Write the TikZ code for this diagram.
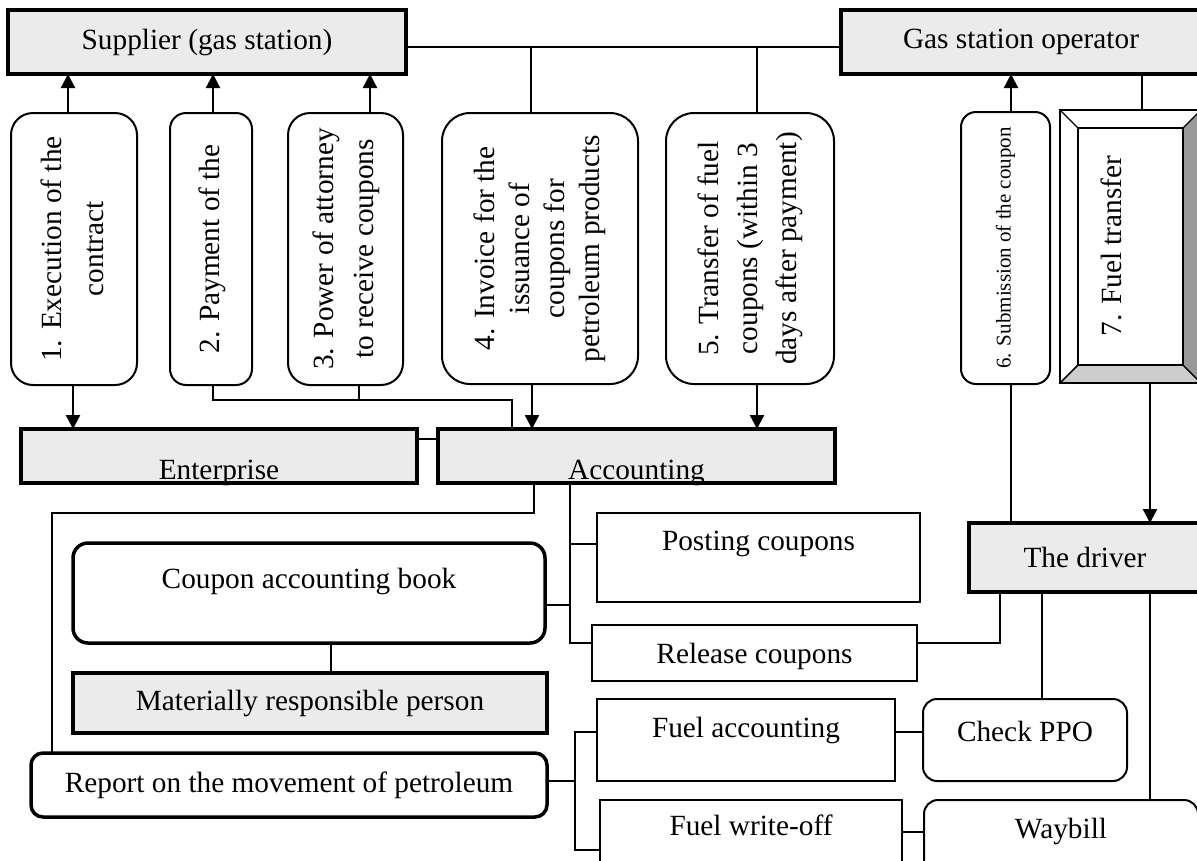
\documentclass[tikz,border=0pt]{standalone}
\usepackage{fontspec}
\setmainfont{Liberation Serif}
\usepackage{graphicx}
\usetikzlibrary{arrows.meta,calc}
\definecolor{boxgray}{HTML}{EBEBEB}
\definecolor{bevlight}{HTML}{CCCCCC}
\definecolor{bevdark}{HTML}{999999}
\newcommand{\bl}[2]{\raisebox{#1pt}[0pt][0pt]{#2}}
\newcommand{\vt}[2]{\rotatebox{90}{\fontsize{29.3}{#1}\selectfont\begin{tabular}{@{}c@{}}#2\end{tabular}}}
\begin{document}
\begin{tikzpicture}[x=1pt,y=-1pt,
 every node/.style={inner sep=0pt, outer sep=0pt, font=\fontsize{29.3}{34}\selectfont},
 thickbox/.style={draw, line width=4pt, fill=boxgray, rectangle},
 rbox/.style={draw, line width=2pt, rounded corners=22pt, fill=white},
 tbox/.style={draw, line width=1.6pt, fill=white},
 ln/.style={line width=1.9pt},
 arr/.style={line width=2.3pt, -{Triangle[length=14pt,width=14pt]}},
]
\clip (0,0) rectangle (1197,860);
\fill[white] (0,0) rectangle (1197,860);

% top boxes
\node[thickbox, minimum width=398, minimum height=64] (sup) at (207,42) {Supplier (gas station)};
\node[thickbox, minimum width=360, minimum height=64] (op) at (1021,42) {Gas station operator};

% numbered steps
\node[rbox, rounded corners=22pt, minimum width=126, minimum height=272] (b1) at (74,249) {\vt{42}{1. Execution of the\\contract}};
\node[rbox, rounded corners=16pt, minimum width=82, minimum height=272] (b2) at (211,249) {\vt{40}{2. Payment of the}};
\node[rbox, rounded corners=22pt, minimum width=115, minimum height=272] (b3) at (345.5,249) {\vt{40}{3. Power of attorney\\to receive coupons}};
\node[rbox, rounded corners=28pt, minimum width=196, minimum height=271] (b4) at (540,248.5) {\vt{35}{4. Invoice for the\\issuance of\\coupons for\\petroleum products}};
\node[rbox, rounded corners=28pt, minimum width=168, minimum height=271] (b5) at (750,248.5) {\vt{39}{5. Transfer of fuel\\coupons (within 3\\days after payment)}};
\node[rbox, rounded corners=15pt, minimum width=89, minimum height=272] (b6) at (1005.5,248) {\rotatebox{90}{\fontsize{21}{24}\selectfont 6. Submission of the coupon}};

% bevel box 7
\node[draw, line width=1.6pt, fill=white, minimum width=141, minimum height=273] (b7) at (1130.5,246.5) {};
\node[minimum width=105, minimum height=237] (b7i) at (1130.5,246.5) {};
\filldraw[fill=bevlight, line width=1.2pt] (b7.south west) -- (b7.south east) -- (b7i.south east) -- (b7i.south west) -- cycle;
\filldraw[fill=bevdark, line width=1.2pt] (b7.south east) -- (b7.north east) -- (b7i.north east) -- (b7i.south east) -- cycle;
\draw[line width=1.2pt] (b7.north west) -- (b7i.north west) (b7.south west) -- (b7i.south west);
\draw[line width=1.6pt] (b7.south west) rectangle (b7.north east);
\draw[line width=1.6pt] (b7i.south west) rectangle (b7i.north east);
\node[rotate=90] (t7) at (1111,246) {7. Fuel transfer};

% middle row
\node[thickbox, minimum width=396, minimum height=54] (ent) at (219,456) {\bl{-23}{Enterprise}};
\node[thickbox, minimum width=397, minimum height=54] (acc) at (636.5,456) {\bl{-23}{Accounting}};

% lower left
\node[rbox, line width=3.5pt, rounded corners=15pt, minimum width=472, minimum height=100] (book) at (309,593) {\bl{5}{Coupon accounting book}};
\node[thickbox, minimum width=474, minimum height=60] (mrp) at (310,703) {Materially responsible person};
\node[rbox, line width=3.5pt, rounded corners=12pt, minimum width=516, minimum height=64] (rep) at (289,785) {Report on the movement of petroleum};

% lower right
\node[tbox, minimum width=323, minimum height=89] (post) at (758.5,557.5) {\bl{7.5}{Posting coupons}};
\node[tbox, minimum width=325, minimum height=56] (rel) at (754.5,653) {\bl{-10}{Release coupons}};
\node[thickbox, minimum width=232, minimum height=69] (drv) at (1085,557.5) {The driver};
\node[tbox, minimum width=298, minimum height=82] (facc) at (746,740) {\bl{3}{Fuel accounting}};
\node[rbox, rounded corners=14pt, minimum width=204, minimum height=82] (ppo) at (1025,740) {\bl{-1}{Check PPO}};
\node[tbox, minimum width=302, minimum height=80] (fwo) at (751,840) {\bl{5}{Fuel write-off}};
\node[rbox, rounded corners=14pt, minimum width=274, minimum height=80] (wb) at (1061,840) {\bl{2}{Waybill}};

% connectors top
\draw[ln] (sup.east |- 0,47) -- (op.west |- 0,47);
\draw[ln] (531,47) -- (531,0 |- b4.north);
\draw[ln] (757,47) -- (757,0 |- b5.north);
\draw[arr] (68,0 |- b1.north) -- (68,0 |- sup.south);
\draw[arr] (213,0 |- b2.north) -- (213,0 |- sup.south);
\draw[arr] (370,0 |- b3.north) -- (370,0 |- sup.south);
\draw[arr] (73,0 |- b1.south) -- (73,0 |- ent.north);
\draw[ln] (213,0 |- b2.south) -- (213,400) -- (512,400) -- (512,0 |- acc.north);
\draw[ln] (359,0 |- b3.south) -- (359,400);
\draw[arr] (532,0 |- b4.south) -- (532,0 |- acc.north);
\draw[arr] (757,0 |- b5.south) -- (757,0 |- acc.north);
\draw[ln] (ent.east |- 0,439) -- (acc.west |- 0,439);

% operator side
\draw[arr] (1011,0 |- b6.north) -- (1011,0 |- op.south);
\draw[ln] (1011,0 |- b6.south) -- (1011,0 |- drv.north);
\draw[ln] (1142,0 |- op.south) -- (1142,0 |- b7.north);
\draw[arr] (1150,0 |- b7.south) -- (1150,0 |- drv.north);

% lower connectors
\draw[ln] (534,0 |- acc.south) -- (534,513) -- (52,513) -- (52,0 |- rep.north);
\draw[ln] (570,0 |- acc.south) -- (570,643) -- (rel.west |- 0,643);
\draw[ln] (570,544) -- (post.west |- 0,544);
\draw[ln] (book.east |- 0,605) -- (570,605);
\draw[ln] (331,0 |- book.south) -- (331,0 |- mrp.north);
\draw[ln] (rel.east |- 0,643) -- (1000,643) -- (1000,0 |- drv.south);
\draw[ln] (1042,0 |- drv.south) -- (1042,0 |- ppo.north);
\draw[ln] (1150,0 |- drv.south) -- (1150,0 |- wb.north);
\draw[ln] (facc.east |- 0,732) -- (ppo.west |- 0,732);
\draw[ln] (fwo.east |- 0,832) -- (wb.west |- 0,832);
\draw[ln] (rep.east |- 0,781) -- (575,781);
\draw[ln] (facc.west |- 0,732) -- (575,732) -- (575,850) -- (fwo.west |- 0,850);
\end{tikzpicture}
\end{document}
